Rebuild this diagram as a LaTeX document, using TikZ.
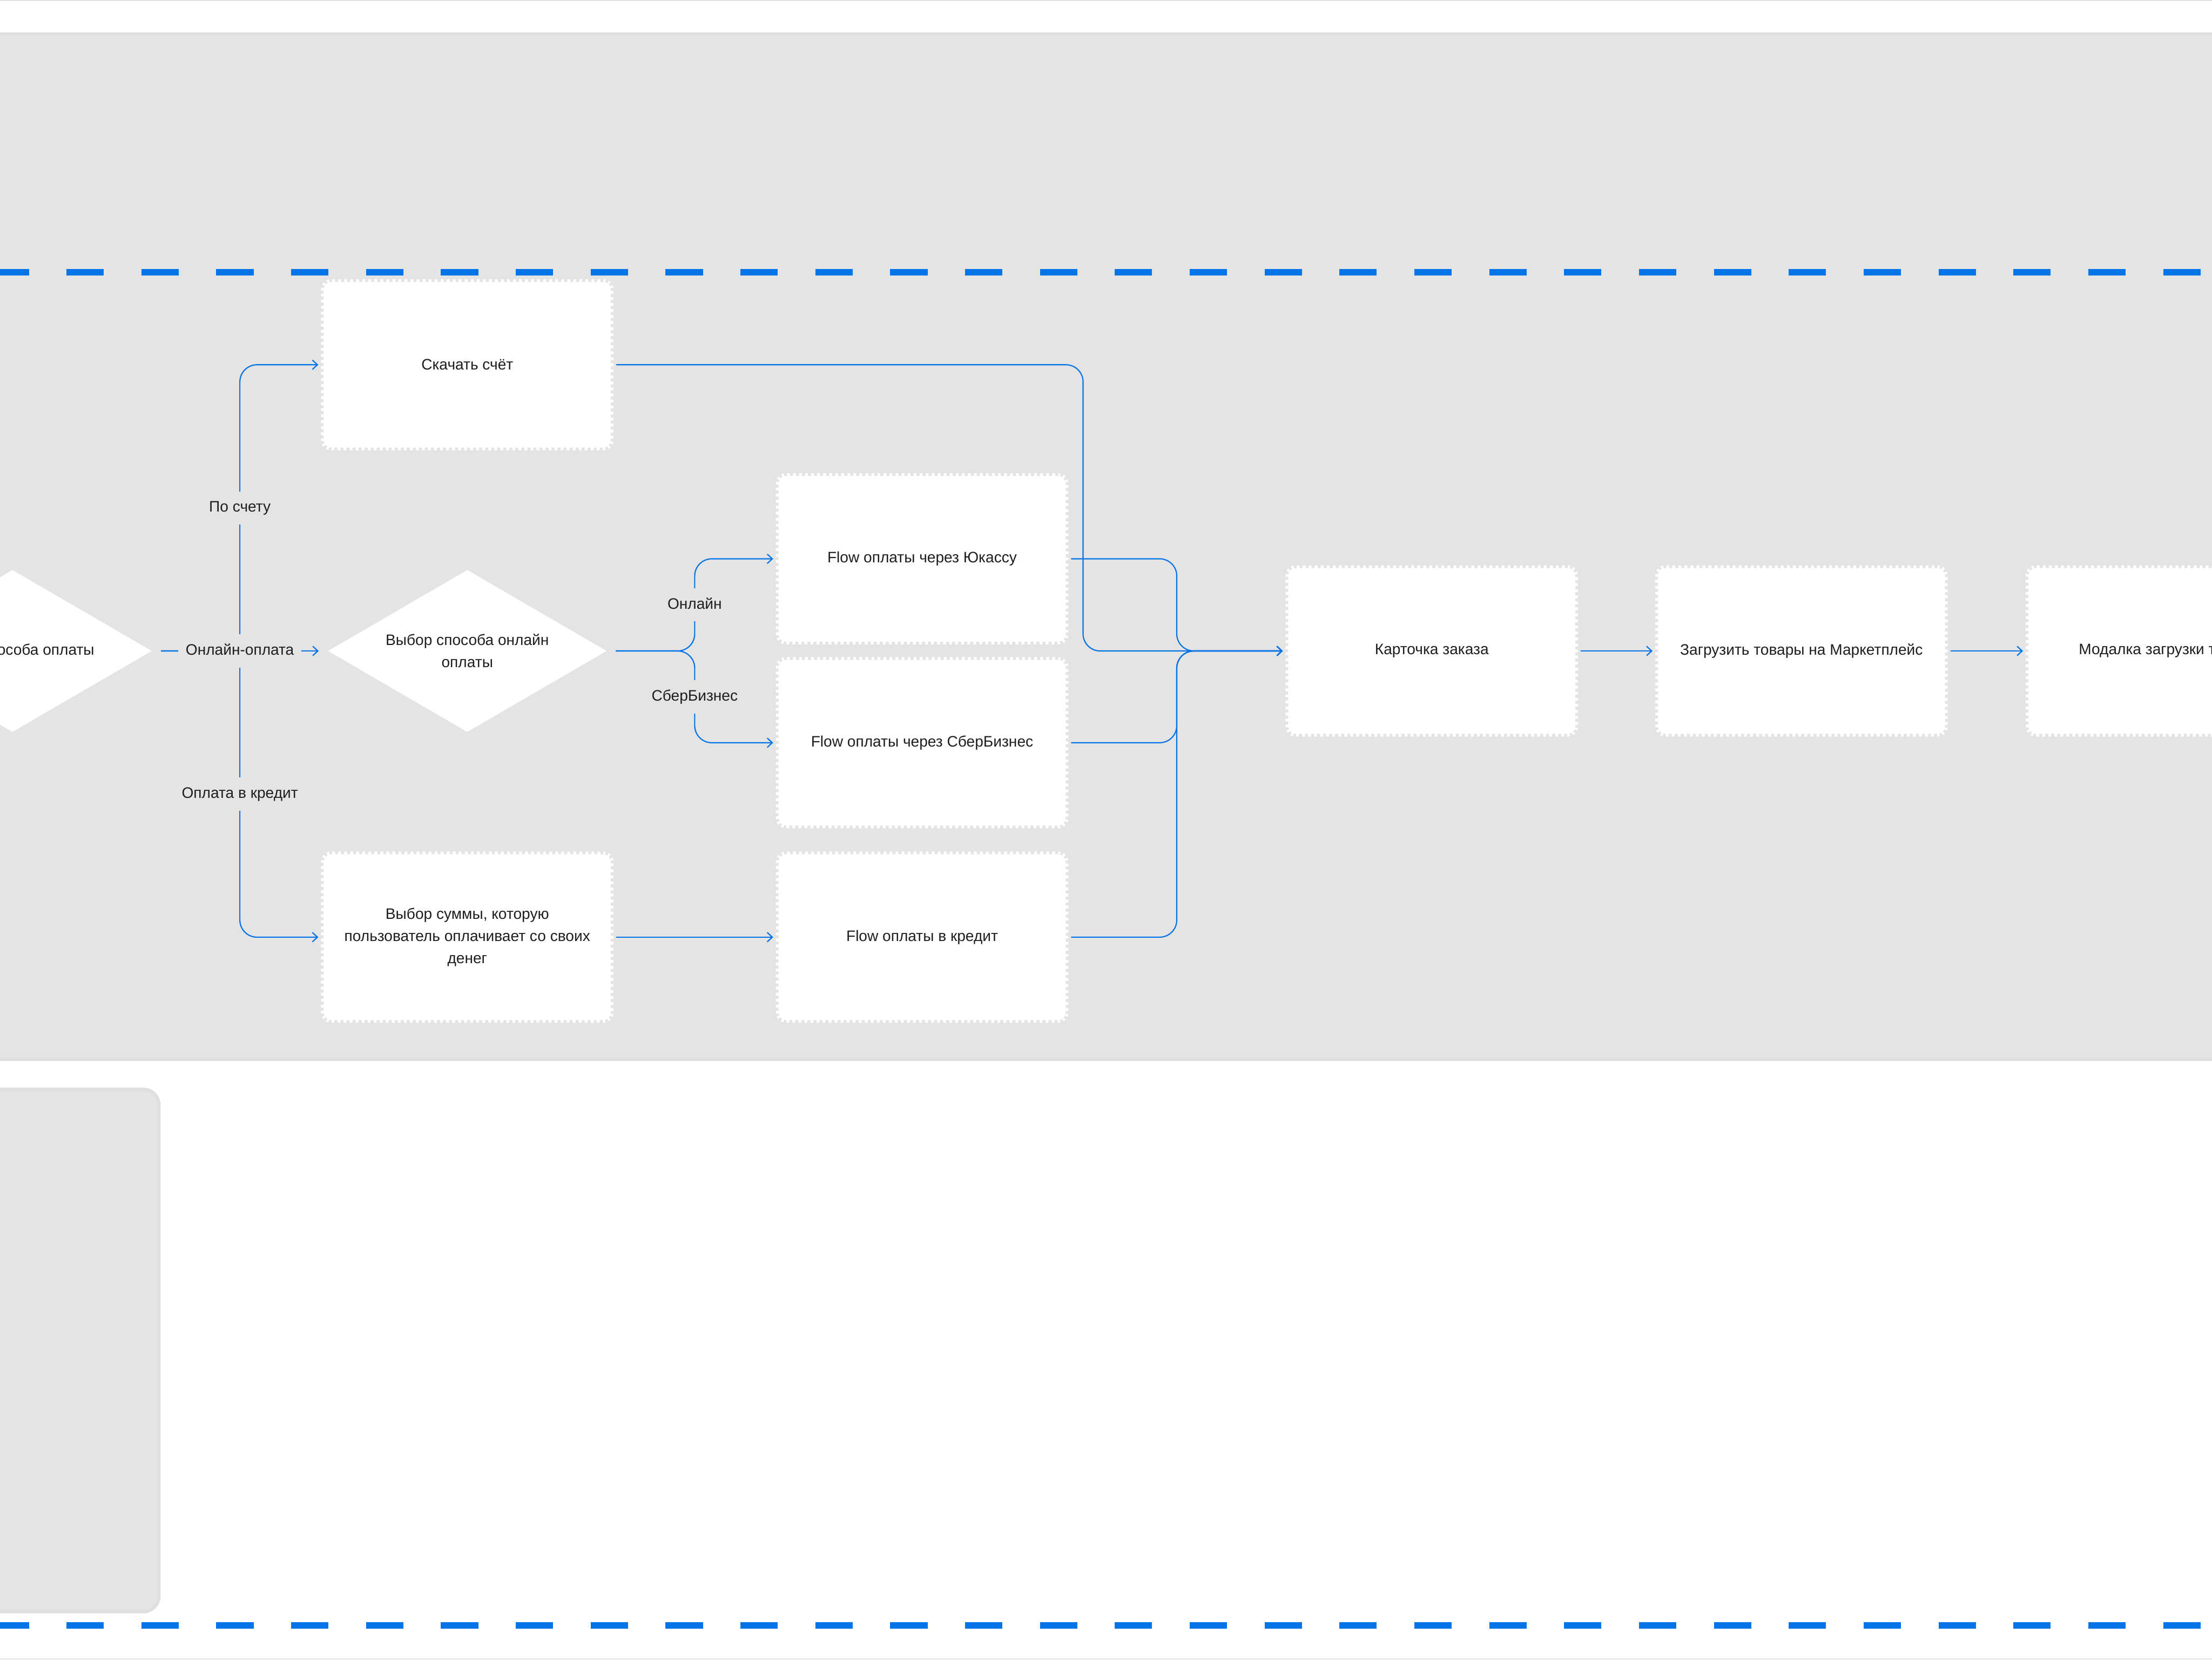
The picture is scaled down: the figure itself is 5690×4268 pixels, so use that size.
\documentclass[tikz,border=0pt]{standalone}
\usepackage{fontspec}
\setmainfont{Liberation Sans}
\usetikzlibrary{arrows.meta,shapes.geometric}

\definecolor{bandgray}{HTML}{E4E4E4}
\definecolor{edgegray}{HTML}{DEDFE1}
\definecolor{flowblue}{HTML}{0073E6}
\definecolor{ink}{HTML}{1E1E1E}
\newcommand{\flowfont}{\fontsize{11.1pt}{16.2pt}\selectfont}

\begin{document}
\begin{tikzpicture}[x=0.01cm, y=-0.01cm, >={Straight Barb[length=0.13cm,width=0.24cm]},
    box/.style={rectangle, rounded corners=0.26cm, fill=white, draw=bandgray, line width=0.14cm,
        dash pattern=on 0.08cm off 0.075cm, minimum width=7.52cm, minimum height=4.4cm,
        inner sep=0pt, outer sep=0.07cm, align=center, text=ink, font=\flowfont},
    choice/.style={diamond, aspect=1.7, fill=white, minimum width=7.3cm, minimum height=4.3cm,
        inner sep=0pt, outer sep=0.17cm, align=center, text=ink, font=\flowfont},
    flow/.style={draw=flowblue, line width=0.03cm, rounded corners=0.44cm, ->},
    lbl/.style={fill=bandgray, sharp corners, text=ink, font=\flowfont, inner xsep=0.19cm,
        inner ysep=0.24cm, text height=0.29cm, text depth=0.08cm},
    lane/.style={draw=flowblue, line width=0.16cm, dash pattern=on 0.96cm off 0.965cm, dash phase=0.215cm}]
        \useasboundingbox (0,0) rectangle (5690,4268);
        \clip (0,0) rectangle (5690,4268);

        % Frame edges
        \fill[bandgray] (0,0) rectangle (5690,3);
        \fill[bandgray] (0,4265) rectangle (5690,4268);

        % Upper band and lower card
        \draw[edgegray, line width=0.08cm, fill=bandgray] (-50,87) rectangle (5740,2724);
        \draw[edgegray, line width=0.08cm, fill=bandgray, rounded corners=0.4cm] (-100,2801) rectangle (409,4145);

        % Lane borders
        \draw[lane] (0,700) -- (5690,700);
        \draw[lane] (0,4180) -- (5690,4180);

        % Decisions
        \node[choice] (pay) at (32,1674) {Выбор способа оплаты};
        \node[choice] (online) at (1202,1674) {Выбор способа онлайн\\оплаты};

        % Steps
        \node[box] (bill) at (1202,938) {Скачать счёт};
        \node[box] (own) at (1202,2410) {Выбор суммы, которую\\пользователь оплачивает со своих\\денег};
        \node[box] (yoo) at (2372,1437) {Flow оплаты через Юкассу};
        \node[box] (sber) at (2372,1910) {Flow оплаты через СберБизнес};
        \node[box] (credit) at (2372,2410) {Flow оплаты в кредит};
        \node[box] (order) at (3683,1674) {Карточка заказа};
        \node[box] (upload) at (4634,1674) {Загрузить товары на Маркетплейс};
        \node[box] (modal) at (5587,1674) {Модалка загрузки товаров};

        \coordinate (forkA) at (617,1674);
        \coordinate (forkB) at (1787,1674);
        \coordinate (joinA) at (2786,1674);
        \coordinate (joinB) at (3027,1674);

        % Payment method
        \draw[flow] (pay.east) -- (forkA) -- node[lbl] {По счету} (forkA |- bill.west) -- (bill.west);
        \draw[flow] (pay.east) -- (forkA) -- node[lbl] {Оплата в кредит} (forkA |- own.west) -- (own.west);
        \draw[flow] (pay.east) -- node[lbl] {Онлайн-оплата} (online.west);

        % Online method
        \draw[flow] (online.east) -- (forkB) -- node[lbl] {Онлайн} (forkB |- yoo.west) -- (yoo.west);
        \draw[flow] (online.east) -- (forkB) -- node[lbl] {СберБизнес} (forkB |- sber.west) -- (sber.west);
        \draw[flow] (own.east) -- (credit.west);

        % Into the order card
        \draw[flow] (bill.east) -| (joinA) -- (order.west);
        \draw[flow] (yoo.east) -| (joinB) -- (order.west);
        \draw[flow] (sber.east) -| (joinB) -- (order.west);
        \draw[flow] (credit.east) -| (joinB) -- (order.west);
        \draw[flow] (order.east) -- (upload.west);
        \draw[flow] (upload.east) -- (modal.west);
    \end{tikzpicture}
\end{document}
